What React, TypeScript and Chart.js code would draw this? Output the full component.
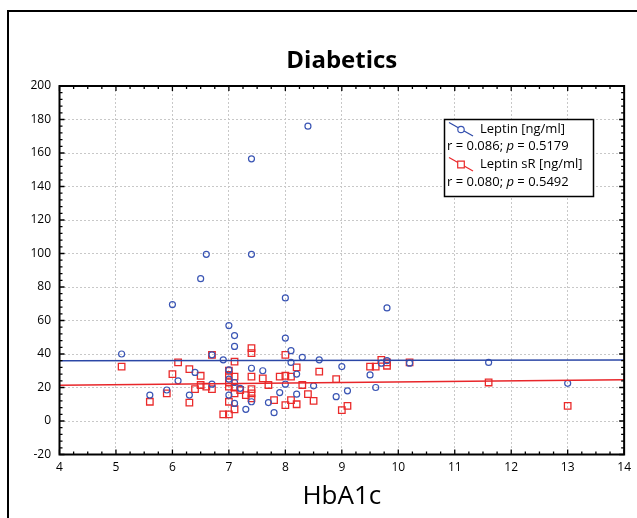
import React, { useEffect, useRef } from 'react';
import { Chart, registerables } from 'chart.js';

Chart.register(...registerables);

const FONT = '"Open Sans", "DejaVu Sans", sans-serif';

// HbA1c (x) vs Leptin [ng/ml] (y)
const leptinX = [5.1, 5.6, 5.9, 6.0, 6.1, 6.3, 6.4, 6.5, 6.6, 6.7, 6.7, 6.9, 7.0, 7.0, 7.0, 7.0, 7.1, 7.1, 7.1, 7.1, 7.2, 7.3, 7.4, 7.4, 7.4, 7.4, 7.6, 7.7, 7.8, 7.9, 8.0, 8.0, 8.0, 8.1, 8.1, 8.2, 8.2, 8.3, 8.4, 8.5, 8.6, 8.9, 9.0, 9.1, 9.5, 9.6, 9.7, 9.8, 9.8, 10.2, 11.6, 13.0];
const leptinY = [40, 15.5, 18.5, 69.5, 24, 15.5, 29, 85, 99.5, 22, 39.5, 36.5, 57, 30.5, 25, 15.5, 51, 44.5, 23, 10.5, 19.5, 7, 156.5, 99.5, 31.5, 11.5, 30, 11, 5, 17, 73.5, 49.5, 22, 42, 35, 28, 16, 38, 176, 21, 36.5, 14.5, 32.5, 18, 27.5, 20, 34.5, 67.5, 36, 34.5, 35, 22.5];

// HbA1c (x) vs Leptin sR [ng/ml] (y)
const sRX = [5.1, 5.6, 5.9, 6.0, 6.1, 6.3, 6.3, 6.4, 6.5, 6.5, 6.6, 6.7, 6.7, 6.9, 7.0, 7.0, 7.0, 7.0, 7.0, 7.0, 7.1, 7.1, 7.1, 7.1, 7.1, 7.2, 7.3, 7.4, 7.4, 7.4, 7.4, 7.4, 7.4, 7.6, 7.7, 7.8, 7.9, 8.0, 8.0, 8.0, 8.1, 8.1, 8.2, 8.2, 8.3, 8.4, 8.5, 8.6, 8.9, 9.0, 9.1, 9.5, 9.6, 9.7, 9.8, 9.8, 10.2, 11.6, 13.0];
const sRY = [32.5, 11.5, 16.5, 28, 35, 31, 11, 19, 27, 21.5, 20.5, 39.5, 19, 4, 30, 27.5, 23, 20.5, 11.5, 4, 35.5, 26.5, 20, 16.5, 7, 18.5, 15.5, 43.5, 40.5, 26.5, 19, 16.5, 13.5, 25.5, 21.5, 12.5, 26.5, 39.5, 27, 9.5, 26.5, 12.5, 32, 10, 21.5, 16, 12, 29.5, 25, 6.5, 9, 32.5, 32.5, 36.5, 35, 33, 35, 23, 9];

// regression lines (end points)
const leptinFitX = [4, 14];
const leptinFitY = [36.0, 36.4];
const sRFitX = [4, 14];
const sRFitY = [21.3, 24.7];

const chartTitle = 'Diabetics';
const xAxisTitle = 'HbA1c';
const seriesNames = ['Leptin [ng/ml]', 'Leptin sR [ng/ml]'];
const statR = ['0.086', '0.080'];
const statP = ['0.5179', '0.5492'];

const X_MIN = 4, X_MAX = 14, X_STEP = 1, X_MINOR = 0.25;
const Y_MIN = -20, Y_MAX = 200, Y_STEP = 20, Y_MINOR = 4;

const BLUE = '#3a55b4';
const BLUE_LINE = '#2b47a6';
const RED = '#ea2a2a';
const RED_LINE = '#e8262a';

const zip = (xs: number[], ys: number[]) => xs.map((x, i) => ({ x, y: ys[i] }));

const decorPlugin = {
  id: 'decor',
  afterDraw(chart: any) {
    const { ctx, chartArea } = chart;
    const { left, right, top, bottom } = chartArea;
    const xs = chart.scales.x;
    const ys = chart.scales.y;
    ctx.save();
    // outer frame
    ctx.strokeStyle = '#000';
    ctx.lineWidth = 2;
    ctx.beginPath();
    ctx.moveTo(8, 800);
    ctx.lineTo(8, 11);
    ctx.lineTo(800, 11);
    ctx.stroke();

    // inward ticks
    ctx.lineWidth = 1.3;
    ctx.beginPath();
    const nx = Math.round((X_MAX - X_MIN) / X_MINOR);
    for (let i = 0; i <= nx; i++) {
      const v = X_MIN + i * X_MINOR;
      const px = xs.getPixelForValue(v);
      const major = i % Math.round(X_STEP / X_MINOR) === 0;
      const len = major ? 5 : 3;
      ctx.moveTo(px, bottom);
      ctx.lineTo(px, bottom - len);
      ctx.moveTo(px, top);
      ctx.lineTo(px, top + len);
    }
    const ny = Math.round((Y_MAX - Y_MIN) / Y_MINOR);
    for (let i = 0; i <= ny; i++) {
      const v = Y_MIN + i * Y_MINOR;
      const py = ys.getPixelForValue(v);
      const major = Math.abs((v - Y_MIN) / Y_STEP - Math.round((v - Y_MIN) / Y_STEP)) < 1e-6;
      const len = major ? 5 : 3;
      ctx.moveTo(left, py);
      ctx.lineTo(left + len, py);
      ctx.moveTo(right, py);
      ctx.lineTo(right - len, py);
    }
    ctx.stroke();

    // plot box
    ctx.lineWidth = 2;
    ctx.strokeRect(left, top, right - left, bottom - top);

    // title
    ctx.fillStyle = '#000';
    ctx.font = `bold 24px ${FONT}`;
    ctx.textAlign = 'center';
    ctx.textBaseline = 'middle';
    ctx.fillText(chartTitle, (left + right) / 2, 61);

    // legend
    const bx = 444.5, by = 119.5, bw = 149, bh = 77;
    ctx.fillStyle = '#fff';
    ctx.fillRect(bx, by, bw, bh);
    ctx.strokeStyle = '#000';
    ctx.lineWidth = 1.5;
    ctx.strokeRect(bx, by, bw, bh);

    const rowY = [129, 146.5, 164, 182];
    const colors = [BLUE_LINE, RED_LINE];
    for (let s = 0; s < 2; s++) {
      const yName = rowY[s * 2];
      const yStat = rowY[s * 2 + 1];
      // symbol
      ctx.strokeStyle = colors[s];
      ctx.lineWidth = 1.2;
      ctx.beginPath();
      ctx.moveTo(449, yName - 6.5);
      ctx.lineTo(473, yName + 7);
      ctx.stroke();
      const cx = 461, cy = yName + 0.5;
      ctx.fillStyle = '#fff';
      ctx.strokeStyle = s === 0 ? BLUE : RED;
      ctx.beginPath();
      if (s === 0) {
        ctx.arc(cx, cy, 3.2, 0, Math.PI * 2);
      } else {
        ctx.rect(cx - 3.3, cy - 3.3, 6.6, 6.6);
      }
      ctx.fill();
      ctx.stroke();

      ctx.fillStyle = '#000';
      ctx.textAlign = 'left';
      ctx.textBaseline = 'middle';
      ctx.font = `13px ${FONT}`;
      ctx.fillText(seriesNames[s], 480, yName);

      let tx = 447;
      const p1 = `r = ${statR[s]}; `;
      ctx.fillText(p1, tx, yStat);
      tx += ctx.measureText(p1).width;
      ctx.font = `italic 13px ${FONT}`;
      ctx.fillText('p', tx, yStat);
      tx += ctx.measureText('p').width;
      ctx.font = `13px ${FONT}`;
      ctx.fillText(` = ${statP[s]}`, tx, yStat);
    }
    ctx.restore();
  },
};

export default function App() {
  const ref = useRef<HTMLCanvasElement | null>(null);

  useEffect(() => {
    document.body.style.margin = '0';
    const canvas = ref.current;
    if (!canvas) return;
    const chart = new Chart(canvas, {
      type: 'scatter',
      data: {
        datasets: [
          {
            label: 'fit leptin',
            data: zip(leptinFitX, leptinFitY),
            showLine: true,
            pointRadius: 0,
            borderColor: BLUE_LINE,
            borderWidth: 1.5,
          },
          {
            label: 'fit sR',
            data: zip(sRFitX, sRFitY),
            showLine: true,
            pointRadius: 0,
            borderColor: RED_LINE,
            borderWidth: 1.5,
          },
          {
            label: seriesNames[0],
            data: zip(leptinX, leptinY),
            pointStyle: 'circle',
            pointRadius: 3,
            borderColor: BLUE,
            backgroundColor: 'rgba(0,0,0,0)',
            borderWidth: 1.2,
          },
          {
            label: seriesNames[1],
            data: zip(sRX, sRY),
            pointStyle: 'rect',
            pointRadius: 4.6,
            borderColor: RED,
            backgroundColor: 'rgba(0,0,0,0)',
            borderWidth: 1.3,
          },
        ],
      } as any,
      options: {
        animation: false,
        responsive: false,
        devicePixelRatio: 1,
        layout: { padding: { top: 86, right: 12.5, bottom: 0, left: 0 } },
        plugins: {
          legend: { display: false },
          tooltip: { enabled: false },
          title: { display: false },
        },
        scales: {
          x: {
            type: 'linear',
            min: X_MIN,
            max: X_MAX,
            ticks: {
              stepSize: X_STEP,
              padding: 6,
              color: '#000',
              font: { family: FONT, size: 12 },
              maxRotation: 0,
            },
            grid: { color: '#c8c8c8', lineWidth: 1, drawTicks: false },
            border: { display: false, dash: [2, 2] },
            title: {
              display: true,
              text: xAxisTitle,
              color: '#000',
              font: { family: FONT, size: 26 },
              padding: { top: 0, bottom: 6 },
            },
            afterFit: (scale: any) => {
              scale.height = 63.5;
            },
          },
          y: {
            type: 'linear',
            min: Y_MIN,
            max: Y_MAX,
            ticks: {
              stepSize: Y_STEP,
              padding: 8.5,
              color: '#000',
              font: { family: FONT, size: 12 },
            },
            grid: { color: '#c8c8c8', lineWidth: 1, drawTicks: false },
            border: { display: false, dash: [2, 2] },
            afterFit: (scale: any) => {
              scale.width = 59.5;
            },
          },
        },
      } as any,
      plugins: [decorPlugin],
    });
    return () => chart.destroy();
  }, []);

  return (
    <div style={{ width: 637, height: 518, position: 'relative', background: '#fff' }}>
      <canvas ref={ref} width={637} height={518} style={{ width: 637, height: 518, display: 'block' }} />
    </div>
  );
}
